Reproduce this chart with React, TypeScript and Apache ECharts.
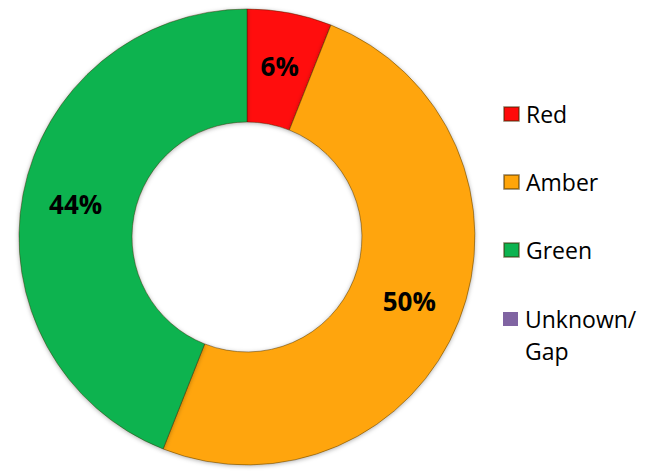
import React, { useEffect, useRef } from "react";
import * as echarts from "echarts";

const categories = ["Red", "Amber", "Green", "Unknown/\nGap"];
const values = [6, 50, 44, 0];
const colors = ["#FF0A0A", "#FFA50A", "#0DB350", "#8064A2"];

export default function App() {
  const ref = useRef<HTMLDivElement>(null);
  useEffect(() => {
    if (!ref.current) return;
    const chart = echarts.init(ref.current, undefined, { renderer: "svg" });
    const data = categories.map((name, i) => ({
      name,
      value: values[i],
      itemStyle: {
        color: colors[i],
        borderWidth: values[i] === 0 ? 0 : 1,
      },
      label: { show: values[i] !== 0 },
    }));
    chart.setOption({
      animation: false,
      backgroundColor: "#ffffff",
      legend: [
        {
          orient: "vertical",
          left: 498,
          top: 96,
          itemWidth: 15,
          itemHeight: 14,
          itemGap: 42,
          icon: "rect",
          data: categories.slice(0, 3),
          textStyle: {
            fontFamily: "Open Sans",
            fontSize: 23,
            lineHeight: 26,
            color: "#000",
            padding: [0, 0, 0, 2],
          },
        },
        {
          orient: "vertical",
          left: 498,
          top: 266,
          itemWidth: 15,
          itemHeight: 14,
          icon: "rect",
          data: categories.slice(3),
          formatter: (name: string) => " \n" + name,
          textStyle: {
            fontFamily: "Open Sans",
            fontSize: 23,
            lineHeight: 32,
            color: "#000",
            padding: [0, 0, 0, 2],
          },
        },
      ],
      series: [
        {
          type: "pie",
          center: [247, 237],
          radius: [115, 228],
          startAngle: 90,
          clockwise: true,
          avoidLabelOverlap: false,
          itemStyle: {
            borderColor: "rgba(60,40,0,0.45)",
            shadowBlur: 4,
            shadowColor: "rgba(0,0,0,0.3)",
            shadowOffsetY: 1,
          },
          emphasis: { disabled: true },
          label: {
            position: "inside",
            formatter: (p: any) => p.value + "%",
            fontFamily: "Open Sans",
            fontWeight: "bold",
            fontSize: 26,
            color: "#000",
          },
          labelLine: { show: false },
          data,
        },
      ],
    });
    return () => chart.dispose();
  }, []);
  return (
    <div
      ref={ref}
      style={{ position: "fixed", left: 0, top: 0, width: 654, height: 473 }}
    />
  );
}
